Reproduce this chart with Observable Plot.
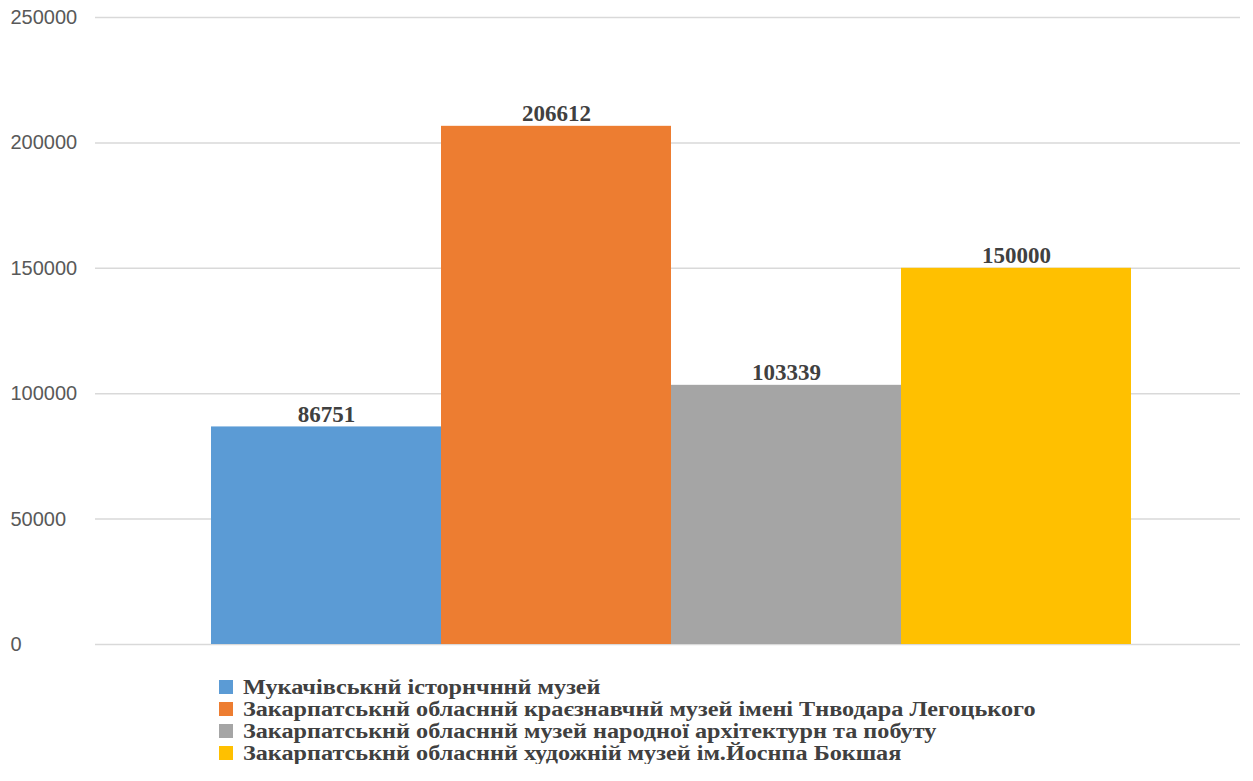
<!DOCTYPE html>
<html>
<head>
<meta charset="utf-8">
<script src="https://cdn.jsdelivr.net/npm/d3@7"></script>
<script src="https://cdn.jsdelivr.net/npm/@observablehq/plot@0.6"></script>
<style>
  body { margin: 0; background: #fff; }
  #legend { margin-top: 16px; margin-left: 219px; font-family: "Liberation Serif", serif; font-weight: bold; font-size: 20px; color: #404040; }
  .row { height: 22px; line-height: 22px; white-space: nowrap; display: flex; align-items: center; }
  .sw { width: 14px; height: 14px; display: inline-block; margin-right: 10px; flex: none; }
  .lbl { display: inline-block; transform-origin: left center; transform: scaleX(1.21); }
</style>
</head>
<body>
<div id="chart"></div>
<div id="legend"></div>
<script>
const museums = [
  "Мукачівськнй історнчннй музей",
  "Закарпатськнй обласннй краєзнавчнй музей імені Тнводара Легоцького",
  "Закарпатськнй обласннй музей народної архітектурн та побуту",
  "Закарпатськнй обласннй художній музей ім.Йоснпа Бокшая"
];
const visitors = [86751, 206612, 103339, 150000];
const colors = ["#5B9BD5", "#ED7D31", "#A5A5A5", "#FFC000"];
const yTicks = [0, 50000, 100000, 150000, 200000, 250000];

const data = museums.map((m, i) => ({museum: m, value: visitors[i]}));

const plot = Plot.plot({
  width: 1253,
  height: 660,
  marginTop: 17,
  marginBottom: 16,
  marginLeft: 95,
  marginRight: 13,
  x: {domain: museums, range: [210, 1132], padding: 0, axis: null},
  y: {domain: [0, 250000], axis: null},
  color: {domain: museums, range: colors},
  marks: [
    Plot.ruleY(yTicks, {stroke: "#d9d9d9", strokeWidth: 1.5}),
    Plot.text(yTicks, {y: d => d, text: d => String(d), frameAnchor: "left", textAnchor: "start", dx: -85, fill: "#595959", fontSize: 20, fontFamily: "Liberation Sans, Arial, sans-serif"}),
    Plot.barY(data, {x: "museum", y: "value", fill: "museum", inset: 0}),
    Plot.text(data, {x: "museum", y: "value", text: d => String(d.value), lineAnchor: "bottom", dy: -5, fontSize: 23, fontWeight: "bold", fontFamily: "Liberation Serif, serif", fill: "#404040"})
  ]
});
document.getElementById("chart").appendChild(plot);

const legend = document.getElementById("legend");
museums.forEach((m, i) => {
  const row = document.createElement("div");
  row.className = "row";
  const sw = document.createElement("span");
  sw.className = "sw";
  sw.style.background = colors[i];
  const lbl = document.createElement("span");
  lbl.className = "lbl";
  lbl.textContent = m;
  row.appendChild(sw);
  row.appendChild(lbl);
  legend.appendChild(row);
});
</script>
</body>
</html>
